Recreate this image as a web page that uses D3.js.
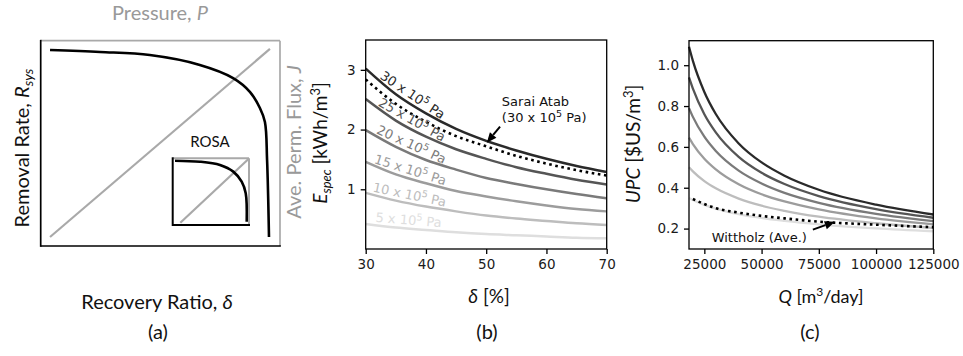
<!DOCTYPE html>
<html>
<head>
<meta charset="utf-8">
<script src="https://cdn.jsdelivr.net/npm/d3@7"></script>
<style>
  body { margin: 0; background: #fff; }
  svg { display: block; }
  .tick text { font-family: "DejaVu Sans", sans-serif; font-size: 13.5px; fill: #1a1a1a; }
  .tick line { stroke: #000; stroke-width: 1.3; }
  .lab { font-family: Lato, "Open Sans", sans-serif; fill: #111; }
  .ann { font-family: "DejaVu Sans", sans-serif; font-size: 13px; fill: #111; }
</style>
</head>
<body>
<svg id="fig" width="963" height="356"></svg>
<script>
// ---------- (a) schematic: removal rate and flux against recovery ----------
const removalX = [0.039, 0.248, 0.456, 0.665, 0.804, 0.875, 0.916, 0.937, 0.946, 0.954];
const removalY = [0.955, 0.945, 0.930, 0.882, 0.818, 0.750, 0.672, 0.604, 0.419, 0.044];
const fluxX = [0.039, 0.958];
const fluxY = [0.044, 0.960];
const rosaRemovalX = [0.03, 0.358, 0.62, 0.794, 0.904, 0.957, 0.97];
const rosaRemovalY = [0.964, 0.949, 0.90, 0.80, 0.649, 0.475, 0.05];
const rosaFluxX = [0.10, 0.99];
const rosaFluxY = [0.034, 0.985];

// ---------- (b) specific energy against recovery ratio ----------
const recovery = [30, 35, 40, 45, 50, 55, 60, 65, 70];
const pressureLabels = ["30", "25", "20", "15", "10", "5"];
const especP30 = [3.02, 2.59, 2.27, 2.01, 1.81, 1.65, 1.51, 1.39, 1.29];
const especP25 = [2.51, 2.15, 1.88, 1.67, 1.51, 1.37, 1.26, 1.16, 1.08];
const especP20 = [1.99, 1.71, 1.49, 1.33, 1.19, 1.09, 1.00, 0.92, 0.85];
const especP15 = [1.46, 1.25, 1.10, 0.97, 0.88, 0.80, 0.73, 0.67, 0.63];
const especP10 = [0.94, 0.81, 0.71, 0.63, 0.56, 0.51, 0.47, 0.43, 0.40];
const especP5  = [0.42, 0.36, 0.32, 0.28, 0.25, 0.23, 0.21, 0.19, 0.18];
const especSaraiAtab = [2.84, 2.43, 2.13, 1.89, 1.72, 1.56, 1.43, 1.32, 1.23];
const recoveryTicks = [30, 40, 50, 60, 70];
const especTicks = [1, 2, 3];

// ---------- (c) unit production cost against plant capacity ----------
const capacity = [18300, 20000, 25000, 30000, 40000, 50000, 60000, 75000, 100000, 125000];
const upcP30 = [1.090, 1.021, 0.869, 0.761, 0.617, 0.524, 0.459, 0.390, 0.317, 0.269];
const upcP25 = [0.940, 0.885, 0.760, 0.671, 0.551, 0.473, 0.418, 0.359, 0.295, 0.253];
const upcP20 = [0.790, 0.747, 0.650, 0.580, 0.484, 0.421, 0.375, 0.326, 0.272, 0.237];
const upcP15 = [0.645, 0.614, 0.542, 0.490, 0.417, 0.368, 0.333, 0.294, 0.250, 0.221];
const upcP10 = [0.500, 0.480, 0.432, 0.397, 0.347, 0.312, 0.287, 0.258, 0.226, 0.203];
const upcP5  = [0.350, 0.340, 0.316, 0.298, 0.271, 0.252, 0.238, 0.221, 0.201, 0.187];
const wittholzQ   = [20000, 25000, 30000, 40000, 50000, 60000, 75000, 100000, 125000];
const wittholzUPC = [0.345, 0.320, 0.300, 0.278, 0.262, 0.250, 0.234, 0.219, 0.207];
const capacityTicks = [25000, 50000, 75000, 100000, 125000];
const upcTicks = [0.2, 0.4, 0.6, 0.8, 1.0];

const greys = ["#2a2a2a", "#555555", "#7a7a7a", "#9c9c9c", "#bdbdbd", "#dedede"];
const frameGrey = "#a9a9a9";

const svg = d3.select("#fig");

// ================= panel (a) =================
const xA = d3.scaleLinear().domain([0, 1]).range([40.7, 280]);
const yA = d3.scaleLinear().domain([0, 1]).range([246, 40.7]);
const gA = svg.append("g");

function frame(g, x, y, w) {
  const [x0, x1] = x.range(), [y1, y0] = y.range();
  g.append("line").attr("x1", x0).attr("x2", x1).attr("y1", y0).attr("y2", y0).attr("stroke", frameGrey).attr("stroke-width", w);
  g.append("line").attr("x1", x1).attr("x2", x1).attr("y1", y0).attr("y2", y1).attr("stroke", frameGrey).attr("stroke-width", w);
  g.append("line").attr("x1", x0).attr("x2", x0).attr("y1", y0 - w / 2).attr("y2", y1 + w / 2).attr("stroke", "#000").attr("stroke-width", w);
  g.append("line").attr("x1", x0).attr("x2", x1 + w / 2).attr("y1", y1).attr("y2", y1).attr("stroke", "#000").attr("stroke-width", w);
}
function pts(xs, ys) { return xs.map((v, i) => [v, ys[i]]); }

gA.append("path")
  .attr("d", d3.line().x(d => xA(d[0])).y(d => yA(d[1]))(pts(fluxX, fluxY)))
  .attr("fill", "none").attr("stroke", frameGrey).attr("stroke-width", 2.2);
gA.append("path")
  .attr("d", d3.line().curve(d3.curveCatmullRom.alpha(0.5)).x(d => xA(d[0])).y(d => yA(d[1]))(pts(removalX, removalY)))
  .attr("fill", "none").attr("stroke", "#000").attr("stroke-width", 2.6);
frame(gA, xA, yA, 1.7);

// inset (ROSA)
const xI = d3.scaleLinear().domain([0, 1]).range([172.7, 249]);
const yI = d3.scaleLinear().domain([0, 1]).range([225, 158.3]);
const gI = svg.append("g");
gI.append("rect").attr("x", 172.7).attr("y", 158.3).attr("width", 76.3).attr("height", 66.7).attr("fill", "#fff");
gI.append("path")
  .attr("d", d3.line().x(d => xI(d[0])).y(d => yI(d[1]))(pts(rosaFluxX, rosaFluxY)))
  .attr("fill", "none").attr("stroke", frameGrey).attr("stroke-width", 2.2);
gI.append("path")
  .attr("d", d3.line().curve(d3.curveCatmullRom.alpha(0.5)).x(d => xI(d[0])).y(d => yI(d[1]))(pts(rosaRemovalX, rosaRemovalY)))
  .attr("fill", "none").attr("stroke", "#000").attr("stroke-width", 2.6);
frame(gI, xI, yI, 2);
gA.append("text").attr("class", "lab").attr("x", 210).attr("y", 147)
  .attr("text-anchor", "middle").style("font-size", "15px").text("ROSA");

// panel (a) titles
const tP = gA.append("text").attr("class", "lab").attr("x", 160).attr("y", 20)
  .attr("text-anchor", "middle").style("font-size", "20px").style("fill", "#999");
tP.append("tspan").text("Pressure, ");
tP.append("tspan").attr("font-style", "italic").text("P");

const tR = gA.append("text").attr("class", "lab")
  .attr("transform", "translate(29,148) rotate(-90)")
  .attr("text-anchor", "middle").style("font-size", "20px");
tR.append("tspan").text("Removal Rate, ");
tR.append("tspan").attr("font-style", "italic").text("R");
tR.append("tspan").attr("font-style", "italic").attr("dy", 4).style("font-size", "14px").text("sys");

const tJ = gA.append("text").attr("class", "lab")
  .attr("transform", "translate(301,142) rotate(-90)")
  .attr("text-anchor", "middle").style("font-size", "20px").style("fill", "#999");
tJ.append("tspan").text("Ave. Perm. Flux, ");
tJ.append("tspan").attr("font-style", "italic").text("J");

const tD = gA.append("text").attr("class", "lab").attr("x", 157).attr("y", 309)
  .attr("text-anchor", "middle").style("font-size", "20px");
tD.append("tspan").text("Recovery Ratio, ");
tD.append("tspan").attr("font-style", "italic").text("δ");

// ================= shared axis helper =================
function axes(g, x, y, xt, yt, yfmt) {
  const xa = g.append("g").attr("transform", `translate(0,${y.range()[0]})`)
    .call(d3.axisBottom(x).tickValues(xt).tickSize(5).tickPadding(5).tickFormat(d3.format("d")));
  const ya = g.append("g").attr("transform", `translate(${x.range()[0]},0)`)
    .call(d3.axisLeft(y).tickValues(yt).tickSize(5).tickPadding(5).tickFormat(yfmt));
  xa.select(".domain").remove();
  ya.select(".domain").remove();
  const [x0, x1] = x.range(), [y1, y0] = y.range();
  g.append("rect").attr("x", x0).attr("y", y0).attr("width", x1 - x0).attr("height", y1 - y0)
    .attr("fill", "none").attr("stroke", "#000").attr("stroke-width", 1.3);
}

function arrow(g, tail, tip) {
  const ang = Math.atan2(tip[1] - tail[1], tip[0] - tail[0]);
  const len = 10, half = 4.2;
  const base = [tip[0] - len * Math.cos(ang), tip[1] - len * Math.sin(ang)];
  g.append("line").attr("x1", tail[0]).attr("y1", tail[1]).attr("x2", base[0]).attr("y2", base[1])
    .attr("stroke", "#000").attr("stroke-width", 2);
  const p1 = [base[0] + half * Math.sin(ang), base[1] - half * Math.cos(ang)];
  const p2 = [base[0] - half * Math.sin(ang), base[1] + half * Math.cos(ang)];
  g.append("path").attr("d", `M${tip}L${p1}L${p2}Z`).attr("fill", "#000");
}

// ================= panel (b) =================
const xB = d3.scaleLinear().domain([30, 70]).range([365.7, 606.7]);
const yB = d3.scaleLinear().domain([0, 3.5]).range([249, 40]);
const gB = svg.append("g");
const especSeries = [especP30, especP25, especP20, especP15, especP10, especP5];
const lineB = d3.line().curve(d3.curveMonotoneX).x(d => xB(d[0])).y(d => yB(d[1]));

especSeries.slice().reverse().forEach((s, k) => {
  const i = especSeries.length - 1 - k;
  gB.append("path").attr("d", lineB(pts(recovery, s)))
    .attr("fill", "none").attr("stroke", greys[i]).attr("stroke-width", 2.5);
});
gB.append("path").attr("d", lineB(pts(recovery, especSaraiAtab)))
  .attr("fill", "none").attr("stroke", "#000").attr("stroke-width", 2.6)
  .attr("stroke-dasharray", "2.6,3.6");

// labels riding on each pressure curve
const labelAt = 37;
function interp(xs, ys, v) {
  const j = Math.max(1, d3.bisectLeft(xs, v));
  const t = (v - xs[j - 1]) / (xs[j] - xs[j - 1]);
  return ys[j - 1] + t * (ys[j] - ys[j - 1]);
}
especSeries.forEach((s, i) => {
  const px = xB(labelAt), py = yB(interp(recovery, s, labelAt));
  const pa = [xB(labelAt - 3), yB(interp(recovery, s, labelAt - 3))];
  const pb = [xB(labelAt + 3), yB(interp(recovery, s, labelAt + 3))];
  const ang = Math.atan2(pb[1] - pa[1], pb[0] - pa[0]);
  const off = 4;
  const cx = px + off * Math.sin(ang), cy = py - off * Math.cos(ang);
  const t = gB.append("text").attr("class", "ann")
    .attr("transform", `translate(${cx},${cy}) rotate(${ang * 180 / Math.PI})`)
    .attr("text-anchor", "middle").style("fill", greys[i]);
  t.append("tspan").text(pressureLabels[i] + " x 10");
  t.append("tspan").attr("dy", -5).style("font-size", "9.5px").text("5");
  t.append("tspan").attr("dy", 5).text(" Pa");
});

axes(gB, xB, yB, recoveryTicks, especTicks, d3.format("d"));

gB.append("text").attr("class", "ann").attr("x", xB(52.6)).attr("y", yB(2.40)).text("Sarai Atab");
const sa = gB.append("text").attr("class", "ann").attr("x", xB(52.6)).attr("y", yB(2.12));
sa.append("tspan").text("(30 x 10");
sa.append("tspan").attr("dy", -5).style("font-size", "9.5px").text("5");
sa.append("tspan").attr("dy", 5).text(" Pa)");
arrow(gB, [xB(52.3), yB(2.05)], [xB(50.1), yB(1.78)]);

const tE = gB.append("text").attr("class", "lab")
  .attr("transform", "translate(327,143) rotate(-90)")
  .attr("text-anchor", "middle").style("font-size", "19px");
tE.append("tspan").attr("font-style", "italic").text("E");
tE.append("tspan").attr("font-style", "italic").attr("dy", 4).style("font-size", "13px").text("spec");
tE.append("tspan").attr("dy", -4).text(" [kWh/m");
tE.append("tspan").attr("dy", -7).style("font-size", "13px").text("3");
tE.append("tspan").attr("dy", 7).text("]");

const tDel = gB.append("text").attr("class", "lab").attr("x", 489).attr("y", 303)
  .attr("text-anchor", "middle").style("font-size", "19px");
tDel.append("tspan").attr("font-style", "italic").text("δ");
tDel.append("tspan").text(" [%]");

// ================= panel (c) =================
const xC = d3.scaleLinear().domain([18300, 125000]).range([689, 933.3]);
const yC = d3.scaleLinear().domain([0.10, 1.12]).range([249, 40.7]);
const gC = svg.append("g");
const upcSeries = [upcP30, upcP25, upcP20, upcP15, upcP10, upcP5];
const lineC = d3.line().curve(d3.curveMonotoneX).x(d => xC(d[0])).y(d => yC(d[1]));
upcSeries.slice().reverse().forEach((s, k) => {
  const i = upcSeries.length - 1 - k;
  gC.append("path").attr("d", lineC(pts(capacity, s)))
    .attr("fill", "none").attr("stroke", greys[i]).attr("stroke-width", 2.3);
});
gC.append("path").attr("d", lineC(pts(wittholzQ, wittholzUPC)))
  .attr("fill", "none").attr("stroke", "#000").attr("stroke-width", 2.6)
  .attr("stroke-dasharray", "2.6,3.6");

axes(gC, xC, yC, capacityTicks, upcTicks, d3.format(".1f"));

gC.append("text").attr("class", "ann").attr("x", xC(28200)).attr("y", yC(0.136)).text("Wittholz (Ave.)");
arrow(gC, [xC(72400), yC(0.195)], [xC(82000), yC(0.233)]);

const tU = gC.append("text").attr("class", "lab")
  .attr("transform", "translate(640,144) rotate(-90)")
  .attr("text-anchor", "middle").style("font-size", "19px");
tU.append("tspan").attr("font-style", "italic").text("UPC");
tU.append("tspan").text(" [$US/m");
tU.append("tspan").attr("dy", -7).style("font-size", "13px").text("3");
tU.append("tspan").attr("dy", 7).text("]");

const tQ = gC.append("text").attr("class", "lab").attr("x", 821).attr("y", 303)
  .attr("text-anchor", "middle").style("font-size", "18px");
tQ.append("tspan").attr("font-style", "italic").text("Q");
tQ.append("tspan").text(" [m");
tQ.append("tspan").attr("dy", -7).style("font-size", "12px").text("3");
tQ.append("tspan").attr("dy", 7).text("/day]");

// panel letters
[["(a)", 158], ["(b)", 487], ["(c)", 810]].forEach(([s, x]) => {
  svg.append("text").attr("class", "lab").attr("x", x).attr("y", 339)
    .attr("text-anchor", "middle").style("font-size", "20px").text(s);
});
</script>
</body>
</html>
